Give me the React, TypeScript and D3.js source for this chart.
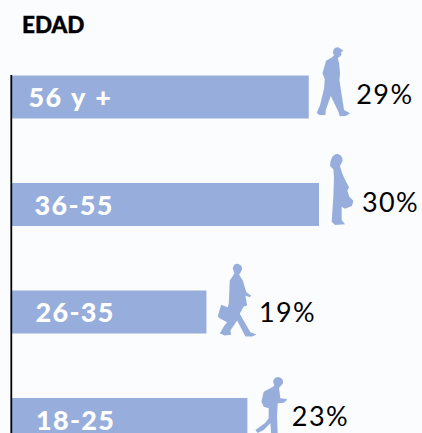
import React from "react";
import * as d3 from "d3";

const categories = ["56 y +", "36-55", "26-35", "18-25"];
const shares = [29, 30, 19, 23];
const title = "EDAD";

const W = 422;
const H = 433;
const BLUE = "#97aedc";
const FONT = "Lato, 'Noto Sans', sans-serif";

const x = d3.scaleLinear().domain([0, 30]).range([12, 319]);
const y = d3.scaleBand<string>().domain(categories).range([75.5, 441]).paddingInner(0.6).paddingOuter(0);

// Silhouette outlines, in a 3x local space, and where each sits against its bar.
const figures = [
  { dx: -18, dy: -45.5, d: "M126 68Q128 52 142 52L150 56L158 62L151 66L152 74L147 80L141 84L145 100L148 130L146 150L152 190L160 240L178 250L165 258L147 259L143 245L120 198L105 240L104 255L85 255L78 248L88 225L100 175L102 148L95 130L106 92L124 82L130 76Z" },
  { dx: -29, dy: -153, d: "M120 408Q122 372 142 371Q158 376 158 392L153 402L150 408L155 425L163 445L177 472L172 482L178 500L190 512L186 528L165 536L155 530L155 570L165 583L135 585L125 575L130 500L132 440L130 418Z" },
  { dx: -6, dy: -40, d: "M97 54Q99 40 111 40Q125 43 125 56L119 68L116 72L127 90L138 125L152 135L148 140L135 135L140 165L130 168L118 190L150 245L168 252L155 258L135 258L110 210L90 240L92 253L72 255L58 248L72 225L80 215L60 205L52 198L62 163L82 170L85 160L88 90L100 72L102 68Z" },
  { dx: -47, dy: -148, d: "M218 396Q220 381 235 381Q250 385 248 400L241 408L236 414L240 445L258 447L260 450L250 458L232 460L230 500L232 549L212 549L210 520L190 540L172 549L165 540L195 518L205 505L205 475L190 470L183 455L190 425L218 410L222 406Z" },
];
const labelInset = [16.5, 22.5, 23.5, 24];
const valueOffset = [
  [47.5, 28],
  [43, 28.7],
  [52.5, 31],
  [44.5, 27.7],
];

export default function App() {
  return (
    <svg
      width={W}
      height={H}
      viewBox={`0 0 ${W} ${H}`}
      style={{ position: "fixed", left: 0, top: 0, background: "#fbfcfe" }}
    >
      <text x={22} y={33} fontFamily={FONT} fontWeight={900} fontSize={22.5} stroke="#000" strokeWidth={0.4} fill="#000">
        {title}
      </text>
      {categories.map((c, i) => {
        const top = y(c)!;
        const end = x(shares[i]);
        return (
          <g key={c}>
            <rect x={x(0)} y={top} width={end - x(0)} height={y.bandwidth()} fill={BLUE} />
            <text
              x={x(0) + labelInset[i]}
              y={top + 31.5}
              fontFamily={FONT}
              fontWeight={900}
              fontSize={27}
              letterSpacing={1.3}
              wordSpacing={1.5}
              fill="#fff"
            >
              {c}
            </text>
            <path
              d={figures[i].d}
              fill={BLUE}
              transform={`translate(${end + figures[i].dx},${top + figures[i].dy}) scale(${1 / 3})`}
            />
            <text
              x={end + valueOffset[i][0]}
              y={top + valueOffset[i][1]}
              fontFamily={FONT}
              fontSize={27}
              letterSpacing={1.4}
              fill="#000"
            >
              {`${shares[i]}%`}
            </text>
          </g>
        );
      })}
      <line x1={11.3} x2={11.3} y1={75} y2={H} stroke="#000" strokeWidth={1.8} />
    </svg>
  );
}
